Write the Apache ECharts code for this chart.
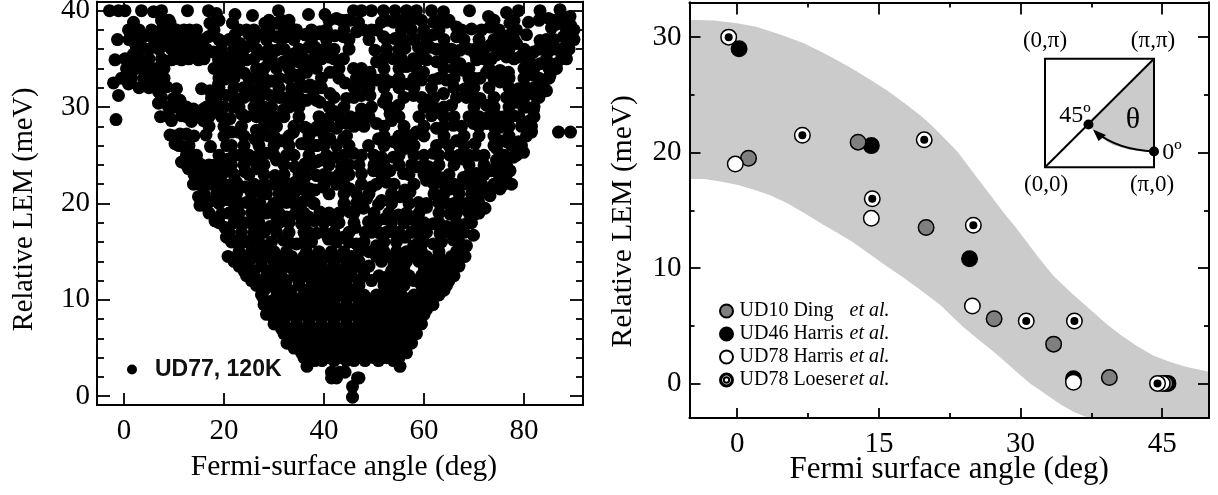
<!DOCTYPE html>
<html><head><meta charset="utf-8">
<script src="https://cdn.jsdelivr.net/npm/echarts@6/dist/echarts.min.js"></script>
<style>html,body{margin:0;padding:0;background:#fff}#c{width:1218px;height:495px}</style></head>
<body><div id="c"></div>
<script>
// Left panel: points [angle, LEM]
const ud77UpperLeft=[[-2.9,40],[-1.1,40],[.2,40],[3.5,40],[5.9,39.9],[7.5,40],[12.7,40],[16.9,40],[18.5,39.7],[22.2,39.6],[25.7,39.5],[30.9,40],[36.9,39.6],
[1.9,38.8],[.9,38],[2.5,37.6],[-1.3,37],[3.9,37.3],[-1.8,34.9],[2.2,36.6],[3.9,36.1],[.2,35],[1.9,35.5],[4.5,34.7],[2.5,34],[-2.1,32.5],[-.5,33],[.9,32.4],[-1.1,31.2],[-1.6,28.7],[5.9,33.8],[7.2,32.8],[8.5,32.1],[10.5,31.9],[6.9,31.6],[9.9,30.9],[11.2,30.7],[6.9,30.4],[8.9,30],[7.3,29],[9.5,28.6],[11.5,29.1],[13.5,28.5],[13.9,29.8],[15.9,29.8],[18.5,29.5],[15.5,31.9],[17.2,31.7],[17.5,30.9],[18.5,30],[15.9,28.6],[16.4,27.1],[17.3,25.9],[9.2,27.1],[11.2,27.2],[12.5,27.2],[10.2,26.2],[11.9,25.9],[13.2,25.2],[11.5,24.3],[13.5,24.1],[15.2,24.1],[12.9,23.6],[15.9,23.1],[18.2,24],[20.2,23.3],[18.5,22.9],[13.9,22],[16.2,22.2],[18.9,21.9],[22.5,22.2],[14.9,20.7],[15.2,19.8],[17.2,20.2],[20.5,20.4],[24.2,21.7],[24.2,23.3],[24.5,20.1],[18.2,18.2],[19.5,18.9],[20.2,17.5],[21.9,18.9],[23.2,20],[20.5,16.5],[22.9,16.2],[25.2,18],[25.5,16.2],[27.2,21.2],[28.9,15.6],
[9.2,38.7],[10.5,38],[8.2,36.4],[11.5,37],[13.1,38],[13.2,37],[16.9,37.3],[15.2,36.6],[17.2,38.7],[9.5,34.9],[11.5,34.9],[12.5,35.9],[14.9,34.9],[14.2,35.9],[17.9,35.7],[18.9,34.9],[21.2,35.2],[19.5,34],[20.2,32.9],[18.9,32.4],[20.5,31.2],[21.7,38.7],[22.2,37.5],[23.2,36.6],[24.9,37.6],[25.2,36.4],[24.5,34.9],[24.1,33.5],[26.2,33],[23.9,32],[25.5,31.2],[27.2,32],[29.5,32.7],[29.2,31.2],[31.7,31],[33.5,31.9],[29.5,30],[31.9,29.7],[34.2,30.2],[36.5,30.7],[38.5,30.7],[36.5,32.1],[38.5,32.1],[34.5,33.3],[34.9,34.7],[36.9,34.5],[33.9,35.5],[31.9,34.7],[28.9,34.5],[27.5,35.5],[30.5,35.9],[33.2,38.3],[36.2,37.5],[28.2,38.7],[27.9,37.6],[30.5,38.7],[30.5,37.3],[32.5,37.3],[38.2,36.2],[36.9,36.2],[39.2,37.6],
[21.9,30],[23.5,29.3],[21.2,28.8],[21.5,27.4],[22.9,27.4],[21.5,26],[20.9,24.6],[23.2,25],[26.5,29],[26.5,27.6],[26.2,26.7],[29.3,28.3],[28.9,27],[31.5,26.5],[33.9,27.4],[36.2,27.9],[38.2,27.6],[35.5,26.2],[38.5,26],[28.5,25.2],[30.5,24.5],[32.5,25],[34.2,23.8],[38.5,24.3],[25.9,24.5],[26.5,23.6],[29.9,22],[30.2,22.9],[34.2,22.2],[36.5,22.9],[38.5,22.9],[35.5,21.5],[38.2,21.4],[32.5,21.2],[27.2,20],[29.5,19.6],[32.5,20.1],[35.2,20],[37.9,20],[30.5,18.6],[29.2,17.6],[32.5,18.6],[34.2,18.9],[35.5,17.9],[38.2,18.2],[37.2,16.9],[31.9,16.2],[34.5,15.8],[27.2,19]];
const ud77UpperRight=[[40.2,39.6],[42.5,39.2],[45.9,40],[47.5,40],[49.5,40],[51.9,40],[54.2,40],[56.5,40],[58.5,40],[61.5,40],[63.9,39.9],[69.1,40],[72.9,39.4],[76.5,39.8],[78.9,40],[83.2,40],[87.2,40.1],[86.5,38.6],[85.5,38.2],
[45.2,39],[46.9,38.8],[46.5,37.8],[49.5,38],[51.5,38.8],[53.9,38.8],[55.9,39],[58.2,39.2],[61.9,38.8],[64.5,38.8],[66.5,38.3],[69.5,38.1],[73.2,38.3],[77.2,38.7],[80.9,38.8],[84.9,39.2],[89.2,39.4],[88.2,38.5],[89.3,38.5],[39.2,37.8],[42.2,37.4],[36.2,37.5],[43.9,37.3],[51.9,37.3],[54.2,37.1],[56.2,36.9],[56.2,36.1],[59.9,37.6],[61.9,37.5],[66.5,37.3],[75.2,37.6],[77.2,37.5],[80.5,37.5],[73.2,36.4],[78.5,36.6],[83.2,36.9],[87.9,37.3],[89.2,37.6],
[58.9,36.2],[61.2,36.2],[64.5,36],[67.2,35.9],[70.5,36.1],[74.5,35.4],[76.5,35.2],[79.2,35.2],[81.9,35.7],[85.2,35.9],[87.9,36.1],[88.5,35],[38.2,35.2],[40.9,35.2],[43.9,35],[50.2,35.9],[50.5,34.7],[53.9,35],[57.9,35],[60.5,34.9],[62.5,34.7],[70.2,35.5],[70.5,34.9],[67.2,34.5],[75.2,33.8],[76.9,33.6],[80.5,34.3],[83.2,34.5],[86.5,34.5],
[36.5,33.6],[41.2,33.6],[45.9,34],[49.2,33.6],[56.5,34.2],[59.9,33.6],[67.9,33.8],[72.5,33.6],[71.2,33],[61.9,32.8],[64.5,32.8],[81.9,33.3],[85.2,33.3],[37.2,32.3],[44.2,32.5],[47.9,32.4],[50.5,32.8],[53.2,32.6],[56.9,32.4],[59.5,32.8],[68.2,31.9],[75.2,32.6],[78.9,31.9],[83.2,32.1],[84.5,31.7],[35.9,30.7],[39.2,30.5],[41.2,31.4],[37.9,31.6],[44.5,30.9],[47.5,31.2],[49.2,31.2],[51.9,30.5],[54.9,30.2],[57.9,31.2],[61.5,30.9],[63.9,31.4],[68.5,31],[71.2,30.9],[76.5,31],[78.5,30.5],[82.2,31.2],[65.5,30.2],[72.5,30.2],[81.9,29.7],[79.9,30],[47.5,29.8],[49.5,30],[42.2,29.5],[63.5,29.3],[61.5,29.1],[40.9,28.8],[45.2,29],[53.2,29.3],[53.5,28.6],[50.5,28.3],[74.5,29.1],[77.9,29.1],[81.2,28.6],
[36.5,27.8],[38.5,27.9],[42.5,27.8],[44.5,28.3],[58.5,27.4],[62.5,27.8],[65.9,28.1],[69.9,28.3],[72.5,28.3],[75.2,27.9],[81.5,27.4],[75.2,26.5],[86.9,27.4],[89.3,27.4],[41.2,26.7],[43.9,26.7],[50.9,26.7],[35.9,26.2],[38.5,26],[53.9,26.4],[56.5,26.2],[58.2,27.2],[63.9,26.4],[66.5,26.5],[70.2,26.2],[76.5,26.4],[78.9,26.4],[79.9,25.3],[48.9,26],[45.9,25.2],[39.2,24.5],[42.2,24.8],[51.5,24.8],[53.9,24.8],[56.2,25.7],[61.9,25.2],[65.2,25],[67.9,24.6],[70.5,25],[74.5,25.7],[74.5,24.5],[77.9,24.8],
[43.5,23.8],[36.2,24.1],[38.5,22.9],[41.2,22.7],[47.5,23.1],[49.9,23.4],[53.2,23.4],[55.9,23.1],[58.5,23.8],[60.9,23.8],[63.2,22.7],[67.9,22.7],[70.5,23.1],[73.5,23.4],[77.2,23.4],[77.5,22],[75.2,21.5],[73.2,20.8],[67.9,22],[69.9,21.9],[71.9,21.5],[42.5,22],[45.2,21.5],[47.5,22],[49.5,21.7],[52.5,22.2],[56.2,21.4],[57.2,21.2],[60.5,22.4],[65.2,21.5],[37.2,21.5],[39.9,21.7],[51.5,20.3],[48.5,20.5],[55.2,20.7],[58.9,20.1],[62.9,20.1],[67.2,20.1],[69.9,20.1],[72.2,19.5],[36.2,20.3],[39.2,19.1],[45.2,19.1],[47.9,19.5],[50.9,19.9],[36.9,18.6],[39.9,18.8],[41.9,18.2],[46.2,17.5],[48.9,18.1],[52.2,18.4],[54.9,18.8],[58.2,18.2],[60.5,19.6],[65.2,18.9],[67.9,19.5],[70.2,18.9],[68.5,17.9],[59.2,17.6],[61.9,17.9],[64.5,17.6],[67.2,17.2],[69.9,16.7],[38.5,16.9],[40.9,16.3],[43.9,16.5],[48.2,17],[51.2,16.9],[53.9,17],[56.2,16.5],[59.5,16.7],[63.2,16.9],[65.9,16.2],[68.5,15.6],[35.9,16],[46.5,15.8],[50.5,15.6],[57.9,15.6],[61.9,15.8]];
const ud77UpperRows=[[39,[7.5,9,19,29,31.5,33,41,43.5,44.5,52.5,55,57,59.5,63,65,74,78,83,86,87.5]],
[38,[3,5.5,7.5,9,12,14.5,18,23,24.5,26,29,32,34.5,37.5,40.5,44,48,50.5,55.5,57.5,60,63,67.5,71.5,75,78.5,88.5,90]],
[37,[1,3,6,8,10,12,14,16,19,21,26,28.5,31.5,34,37.5,40.5,45,49,52.5,55,58,60.5,64,68,71,74,76,78,84.5,86,88.5,90]],
[36,[2.5,5,7,9.5,11,13,15.5,16.5,19.5,22,24,26.5,29,32,35,40,42,45,52.5,55,60,62.5,65.5,69,72,75,77,80,83,84.5,86.5,89]],
[35,[1,3,5,7.5,10,13,16,20,22.5,26,29.5,33,36,39.5,42,52,55.5,59,64,66,72,73.5,78,81,84.5,87.5]],
[34,[0.5,4,6.5,8,18,21,23,26.5,28,30.5,33,36,38.5,43,47.5,52,55,58.5,64,66,69,73,80,82,85,86.5]],
[33,[1.5,4,6,8,19,22,25,28,31,33,35,39.5,43,46.5,48.5,52,55,58,63,66,69,70,74,77,80,83,85]],
[32,[3,5,7,19,22,25,28,31,35,39.5,46,49,52,55,58,61.5,66,70,73,77,80.5,82,84]],
[31,[7.5,18.5,22,24,27,31,33,35,42,46,52.5,56,59.5,62,66.5,70,74,78,80,83]],
[30,[10.5,12.5,16.5,20,23,26,28,33,35,41,44,53,60,62,64,70,74,77,80.5,82]],
[29,[9,12.5,15,17,19.5,24.5,28,30,32,35,39,43,47,49,55,59,64,66,69,71,73,76,79,82]],
[28,[17,20,23.5,28,30.5,34,39.5,41,46,48,52,56,60,64,67.5,71,74,77,79.5,81.5]],
[27,[10,14,20,24,27.5,30,33,37,40,44.5,52,55,57,60,64,68,71,74,77,80.5]],
[26,[11,13,20.5,24,27,30,33,37,40,42.5,45,52,55,58,62.5,65,68,74,77.5,79.5]],
[25,[12.5,14.5,19,22,25,27,30,34,37,40.5,44,47.5,50,55,58,60,63,67,69,72,76,78.5]],
[24,[12.5,14.5,17,19,21.5,24,28,32,37.5,41,45,47,50,52,55,57.5,60,63,66,69,72,74.5,76.5]],
[23,[14,17,19.5,22,25,28,32,35,40,43,45,51.5,57,60,62,65,69,72,75,76.5]],
[22,[15,17.5,20,21.5,26,28,31,33,36,40,44,50.5,54,58,62,64,66,71.5,74,76]],
[21,[16,18.5,20.5,22.5,25.5,28.5,31,34,37,41,44,46.5,49,53.5,56,62,64,67,69.5,71.5,73]],
[20,[16.5,19,22,26,30,31,34,38,44,46.5,53.5,57,60.5,64.5,66,68.5,71]],
[19,[17,21,23,25.5,28.5,31,36,41,43,46,50,53,56.5,59,63,66.5,69,71]],
[18,[19,22,24,27,31,33,36.5,40,43,46,50.5,53.5,56,60,63,66.5,69.5]],
[17,[21,23.5,26,28,30.5,33,36,40,42,45,49.5,52.5,55,57.5,60.5,65,68]],
[16,[21.5,24,27,29.5,33,37.5,42.5,45,48,52,54.5,59,60,63.5,67]],
[15,[23,25.5,27.5,30,32.5,36.5,39,41.5,44,47,49,52,54.5,56.5,59.5,63,66.5]]];
const ud77LowerRows=[[14.5,[20.8,24,26.5,29,31,33.5,36,38.5,40.5,43,45.5,50.5,53,55.5,58,60.5,63,65.5,68.2]],
[14,[22,25,27.5,30,32,34.5,37,39.5,42,44.5,47,51.5,54,56.5,59,61.5,64,66.5]],
[13.5,[23,24.5,27.5,30.2,32.5,35.5,37.5,39.5,42,44.5,46.5,49,54,56,60,62,64.5,67]],
[13,[24,26,29,31.5,34,36.5,38.5,41,43,45.5,48,53.5,56,60,62.5,65]],
[12.5,[24.5,26,28.5,31,34.5,36.5,39,41,43.5,45.5,48,51,53,55,57,59.5,61.5,63.5,66]],
[12,[25.5,27.5,30,32.5,35,37.5,40,42,44.5,47,49.5,52,54,56,58,60.5,62.5,65]],
[11.5,[26.5,29.5,32,35,38,40.5,42.5,44.5,47,52,54,56,59.5,62,64.5]],
[11,[28,30.5,33,36.5,39,41.5,44,46,52.5,54.5,60,62,64]],
[10.5,[27.5,31,33.5,36,38.5,41,43,45.5,48,50.5,53,55.5,58,60.5,63]],
[10,[28,30,32.5,35,37.5,40,42,44.5,47,49,51.5,54,56.5,59,61.5]],
[9.5,[28,30,32,34.5,37,39.5,42,44.5,47,49.5,52,54.5,57,59.5,61.8]],
[9,[29.5,31.5,34,36,38.5,41,43.5,46,48.5,51,53.5,56,58.5,60.5]],
[8.5,[28.5,30.8,33,35.5,38,40.5,43,45.5,48,50.5,53,55.5,58,60]],
[8,[30,32,34.5,37,39.5,42,44.5,47,49,51.5,54,56.5,59]],
[7.5,[30,32,34.5,37,39.5,42,44.5,47,49.5,52,54.5,57,59.5]],
[7,[31.5,33,35.5,38,40.5,43,45.5,48,50.5,53,55.5,58]],
[6.5,[32,34,36,38.5,41,43.5,46,48.5,51,53.5,56,58.5]],
[6,[33,35,37,39.5,42,44.5,47,49.5,52,54.5,57]],
[5.5,[32.6,35.5,37.5,40,42.5,45,47.5,50,52.5,55,57.5]],
[5,[34,36.5,38.5,41,43.5,46,48.5,51,53.5,56]],
[4.5,[35.5,37.5,39.5,42,44,46.5,49,51.5,54,56.5]],
[4,[36,38,40.5,43,45,47.5,50,52.5,55]],
[3.7,[38.2,39.6,42,44.5,46,48.2,50.9,53.9]],
[3.1,[36.6,55.2]],
[2.5,[41.5,43.2,44.2]],
[1.9,[41.5,42.5,46.7,47]],
[1,[45.7]],
[-.1,[45.7]]];
const ud77Points=ud77UpperLeft.concat(ud77UpperRight);
ud77UpperRows.concat(ud77LowerRows).forEach(r=>r[1].forEach(a=>ud77Points.push([a,r[0]])));

// Right panel: angle (deg), LEM (meV)
const ud10Ding=[[1.2,19.5],[12.8,20.9],[20,13.5],[27.2,5.6],[33.5,3.4],[39.4,0.5],[45.3,0]];
const ud46Harris=[[0.2,29],[14.2,20.6],[24.6,10.8],[35.6,0.4],[45.6,0]];
const ud78Harris=[[-0.2,19],[14.2,14.3],[24.9,6.7],[35.6,0.1],[45,0]];
const ud78Loeser=[[-0.9,30],[6.9,21.5],[14.3,16],[19.8,21.1],[25,13.7],[30.6,5.4],[35.7,5.4],[44.5,0]];
const bandUpperAngle=[-5.05,-2.5,0,2,3.5,5,7,9,10.6,12.5,14.1,16,18,19.4,20.4,22,23.3,24.5,25.7,27,28.2,29.5,30.7,32,33.5,35.3,37.1,39,40.6,42.4,44.1,46,47.7,49.95];
const bandUpperLem=[31.5,31.45,31.2,30.9,30.5,30.1,29.5,28.7,28,27.1,26.3,25.3,24.1,23.2,22.5,21.2,20.1,18.8,17.5,16.1,14.8,13.5,12.2,10.8,9.3,7.9,6.6,5.2,4.2,3.2,2.4,1.8,1.4,1];
const bandLowerAngle=[-5.05,-3.5,-1.8,0,1.7,3.5,5.3,7,8.8,10.5,12.3,14,15.9,17.7,19.4,21.5,23.9,25.7,27.5,29.3,31,32.6,34.2,35.7,37.1,38,49.95];
const bandLowerLem=[17.7,17.7,17.5,17.2,16.8,16.3,15.6,14.8,13.9,13.1,12.2,11.2,10.1,9.1,8.1,6.8,4.9,3.7,2.5,1.2,0,-0.9,-1.8,-2.5,-2.95,-3,-3];
const leftMajorX=[0,20,40,60,80], leftMajorY=[0,10,20,30,40], leftMinorY=[2,4,6,8,12,14,16,18,22,24,26,28,32,34,36,38];
const rightMajorX=[0,15,30,45], rightMinorX=[7.5,22.5,37.5], rightMajorY=[0,10,20,30], rightMinorY=[5,15,25];

const serif='"Liberation Serif"', black='#000', gray='#7f7f7f', band='#cbcbcb';
const rectL={left:97,top:1.7,width:486,height:403.3,outerBoundsMode:'none'}, rectR={left:689.5,top:2.5,width:519.5,height:415.5,outerBoundsMode:'none'};
function axis(grid,pos,min,max,vals,len,labels,margin,name,gap,size,pad){
 const a={type:'value',gridIndex:grid,position:pos,min,max,z:2,nameMoveOverlap:false,
  axisLine:{show:true,onZero:false,lineStyle:{color:black,width:1.8}},splitLine:{show:false},
  axisTick:{show:true,inside:true,length:len,customValues:vals,lineStyle:{color:black,width:1.8}},
  axisLabel:{show:!!labels,customValues:vals,color:black,fontFamily:serif,fontSize:29,margin:margin||8}};
 if(name){a.name=name;a.nameLocation='middle';a.nameGap=gap;a.nameTextStyle={fontFamily:serif,fontSize:size,color:black,padding:pad||0};}
 return a;
}
const ringIcon='path://M12,0A12,12 0 1 1 -12,0A12,12 0 1 1 12,0ZM10,0A10,10 0 1 0 -10,0A10,10 0 1 0 10,0ZM5,0A5,5 0 1 1 -5,0A5,5 0 1 1 5,0Z';
const richLegend={a:{fontFamily:serif,fontSize:20,color:black,width:110,lineHeight:20},b:{fontFamily:serif,fontSize:20,color:black,fontStyle:'italic',lineHeight:20}};
function bandPolygon(params,api){
 const pts=[];
 bandUpperAngle.forEach((a,i)=>pts.push(api.coord([a,bandUpperLem[i]])));
 for(let i=bandLowerAngle.length-1;i>=0;i--)pts.push(api.coord([bandLowerAngle[i],bandLowerLem[i]]));
 return {type:'polygon',shape:{points:pts},style:{fill:band},silent:true};
}
const mk=(name,data,fill,z)=>({type:'scatter',name,data,xAxisIndex:4,yAxisIndex:4,symbolSize:15.5,z,itemStyle:{color:fill,borderColor:black,borderWidth:1.5,opacity:1},silent:true});
const XL=[-5.4,91.8],YL=[-0.91,40.93],XR=[-5.05,49.95],YR=[-3,33];
const T=(text,x,y,size,align)=>({type:'text',x,y,z:20,style:{text,fontFamily:serif,fontSize:size,fill:black,textAlign:align||'center',textVerticalAlign:'middle'}});
const insetLine={stroke:black,lineWidth:2,fill:null};
const option={animation:false,backgroundColor:'#fff',
 grid:[rectL,rectL,rectR,rectR],
 xAxis:[
  axis(0,'bottom',XL[0],XL[1],leftMajorX,12,true,12,'Fermi-surface angle (deg)',47,29.5,[0,0,0,8]),
  axis(0,'top',XL[0],XL[1],leftMajorX,12,false),
  axis(2,'bottom',XR[0],XR[1],rightMinorX,5,false),
  axis(2,'top',XR[0],XR[1],rightMinorX,5,false),
  axis(3,'bottom',XR[0],XR[1],rightMajorX,10,true,12,'Fermi surface angle (deg)',36,31),
  axis(3,'top',XR[0],XR[1],rightMajorX,12,false),
  axis(1,'bottom',XL[0],XL[1],[],0,false)
 ],
 yAxis:[
  axis(0,'left',YL[0],YL[1],leftMajorY,13,true,7,'Relative LEM (meV)',58,28.5,[0,12,0,0]),
  axis(0,'right',YL[0],YL[1],leftMajorY,13,false),
  axis(2,'left',YR[0],YR[1],rightMinorY,5,false),
  axis(2,'right',YR[0],YR[1],rightMinorY,5,false),
  axis(3,'left',YR[0],YR[1],rightMajorY,11,true,8,'Relative LEM (meV)',51,29.5,[0,22,0,0]),
  axis(3,'right',YR[0],YR[1],rightMajorY,11,false),
  axis(1,'left',YL[0],YL[1],leftMinorY,7,false),
  axis(1,'right',YL[0],YL[1],leftMinorY,7,false)
 ],
 legend:[
  {show:true,left:122,top:353,orient:'vertical',selectedMode:false,itemWidth:36,itemHeight:10,data:[{name:'UD77, 120K',icon:'circle'}],
   textStyle:{fontFamily:'"Liberation Sans"',fontWeight:'bold',fontSize:23,color:'#111'}},
  {show:true,left:714,top:296,orient:'vertical',selectedMode:false,itemWidth:16,itemHeight:13,itemGap:3,
   data:[{name:'UD10 Ding',icon:'circle'},{name:'UD46 Harris',icon:'circle'},{name:'UD78 Harris',icon:'circle'},{name:'UD78 Loeser',icon:ringIcon}],
   formatter:n=>`{a|${n}}{b|et al.}`,textStyle:{rich:richLegend}}
 ],
 series:[
  {type:'scatter',name:'UD77, 120K',data:ud77Points,xAxisIndex:0,yAxisIndex:0,symbolSize:13,itemStyle:{color:black,opacity:1},silent:true,z:3,large:false},
  {type:'custom',name:'band',xAxisIndex:4,yAxisIndex:4,renderItem:bandPolygon,data:[[0,0]],clip:true,silent:true,z:1},
  mk('UD46 Harris',ud46Harris,black,3),
  mk('UD10 Ding',ud10Ding,gray,4),
  mk('UD78 Harris',ud78Harris,'#fff',5),
  mk('UD78 Loeser',ud78Loeser,'#fff',6),
  {type:'scatter',name:'Loeser centre',data:ud78Loeser,xAxisIndex:4,yAxisIndex:4,symbolSize:8,z:7,itemStyle:{color:black,opacity:1},silent:true}
 ],
 graphic:[
  {type:'polygon',z:10,shape:{points:[[1154,59],[1088.5,124.5],[1093,130],[1103,139],[1113,145],[1130,150],[1154,151.5]]},style:{fill:band}},
  {type:'rect',z:11,shape:{x:1045,y:58.7,width:109,height:108.6},style:insetLine},
  {type:'line',z:11,shape:{x1:1045,y1:167.3,x2:1154,y2:58.7},style:insetLine},
  {type:'bezierCurve',z:11,shape:{x1:1154,y1:151.5,cpx1:1125,cpy1:150,cpx2:1108,cpy2:142,x2:1096,y2:132},style:insetLine},
  {type:'polygon',z:12,shape:{points:[[1093,129.5],[1106,135],[1098.5,141]]},style:{fill:black}},
  {type:'circle',z:12,shape:{cx:1088.5,cy:124.5,r:5},style:{fill:black}},
  {type:'circle',z:12,shape:{cx:1154,cy:151.5,r:5},style:{fill:black}},
  T('(0,π)',1045,41,23),T('(π,π)',1153,41,23),T('(0,0)',1046,185,23),T('(π,0)',1152,185,23),
  T('45º',1075,116,24),T('θ',1133,120,30),T('0º',1172,153,24)
 ]
};
const chart=echarts.init(document.getElementById('c'),null,{renderer:'canvas'});
chart.setOption(option);
</script></body></html>
